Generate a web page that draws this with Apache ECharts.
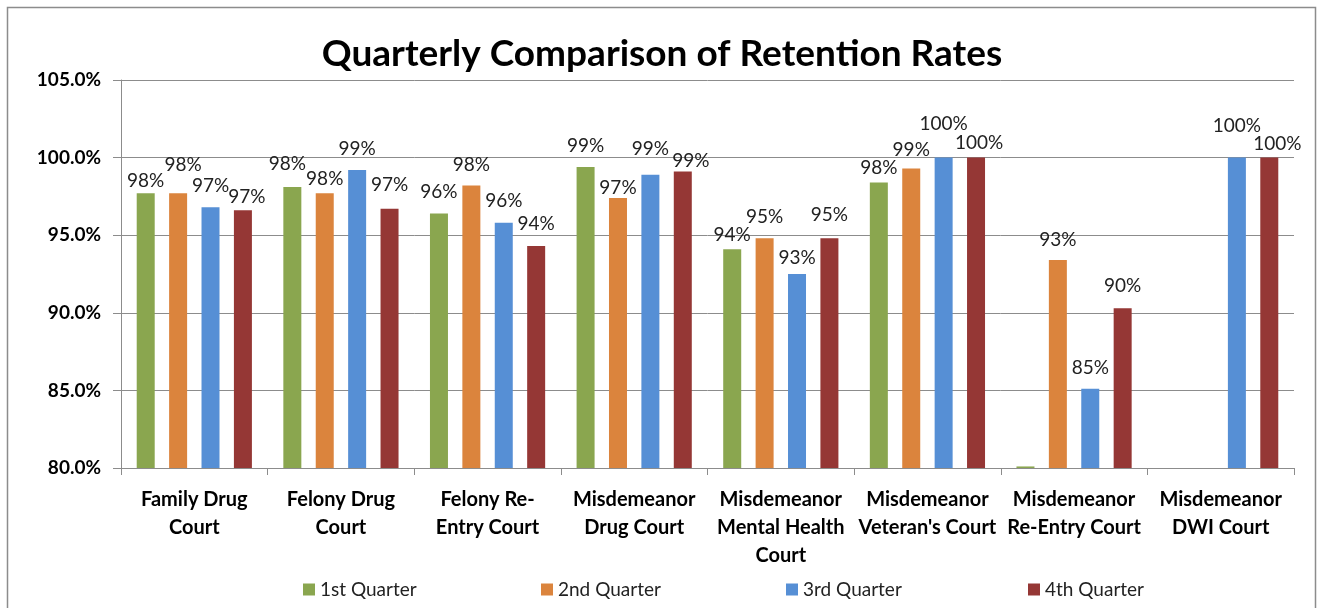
<!DOCTYPE html>
<html>
<head>
<meta charset="utf-8">
<script src="https://cdn.jsdelivr.net/npm/echarts@6/dist/echarts.min.js"></script>
<style>
  html, body { margin: 0; padding: 0; background: #ffffff; }
  #chart { width: 1324px; height: 608px; }
</style>
</head>
<body>
<div id="chart"></div>
<script>
// categories and quarterly retention rates (%)
const courts = [
  'Family Drug\nCourt',
  'Felony Drug\nCourt',
  'Felony Re-\nEntry Court',
  'Misdemeanor\nDrug Court',
  'Misdemeanor\nMental Health\nCourt',
  "Misdemeanor\nVeteran's Court",
  'Misdemeanor\nRe-Entry Court',
  'Misdemeanor\nDWI Court'
];
const quarters = ['1st Quarter', '2nd Quarter', '3rd Quarter', '4th Quarter'];
const q1 = [97.7, 98.1, 96.4, 99.4, 94.1, 98.4, 80.1, null];
const q2 = [97.7, 97.7, 98.2, 97.4, 94.8, 99.3, 93.4, null];
const q3 = [96.8, 99.2, 95.8, 98.9, 92.5, 100.0, 85.1, 100.0];
const q4 = [96.6, 96.7, 94.3, 99.1, 94.8, 100.0, 90.3, 100.0];
const yTicks = [80, 85, 90, 95, 100, 105];

// label nudges [dx, dy] per quarter and court, as the labels were moved in the original
const labelShift = [
  [[0, 9], [-5, -2], [0, 0], [0, 0], [0, 7], [0, 7], [0, 0], [0, 0]],
  [[5, -7], [0, 7], [0, 1], [0, 11], [0, 0], [0, 3], [0, 1], [0, 0]],
  [[0, 0], [0, 0], [0, 0], [0, -4], [0, 5], [0, -12], [0, 1], [0, -10]],
  [[4, 8], [0, -2], [0, -1], [8, 11], [0, -2], [3, 7], [0, -1], [8, 8]]
];

const colors = ['#8AA64F', '#DB843D', '#568FD5', '#953735'];
const font = 'Lato, "Open Sans", sans-serif';

let myChart = echarts.init(document.getElementById('chart'));

let seriesData = [q1, q2, q3, q4];
let series = seriesData.map((vals, i) => ({
  name: quarters[i],
  type: 'bar',
  barWidth: 18,
  barGap: '80%',
  itemStyle: { color: colors[i] },
  label: {
    show: true,
    position: 'top',
    distance: 12,
    color: '#222',
    fontFamily: font,
    fontSize: 19,
    formatter: p => (p.value > 80.5 ? Math.round(p.value) + '%' : '')
  },
  data: vals.map((v, j) => ({
    value: v === null ? '-' : v,
    label: { offset: labelShift[i][j] }
  }))
}));

// one legend per item, to place them like the original
let legendLeft = [298, 536, 781, 1023];
let legends = quarters.map((q, i) => ({
  data: [q],
  left: legendLeft[i],
  top: 575,
  itemWidth: 12,
  itemHeight: 12,
  itemGap: 0,
  icon: 'rect',
  selectedMode: false,
  textStyle: { fontFamily: font, fontSize: 19, color: '#222' }
}));

let option = {
  backgroundColor: '#ffffff',
  animation: false,
  color: colors,
  title: {
    text: 'Quarterly Comparison of Retention Rates',
    left: 'center',
    top: 31,
    textStyle: { fontFamily: font, fontWeight: 'bold', fontSize: 37, color: '#000' }
  },
  legend: legends,
  grid: { left: 121, right: 30, top: 80, bottom: 140, containLabel: false },
  xAxis: {
    type: 'category',
    data: courts,
    axisLine: { lineStyle: { color: '#8c8c8c', width: 1 } },
    axisTick: { show: true, length: 7, inside: false, lineStyle: { color: '#8c8c8c' } },
    axisLabel: {
      interval: 0,
      margin: 18,
      fontFamily: font,
      fontWeight: 'bold',
      fontSize: 20,
      lineHeight: 28,
      color: '#000'
    }
  },
  yAxis: {
    type: 'value',
    min: yTicks[0],
    max: yTicks[yTicks.length - 1],
    interval: 5,
    axisLine: { show: true, lineStyle: { color: '#8c8c8c' } },
    axisTick: { show: true, length: 8, lineStyle: { color: '#8c8c8c' } },
    splitLine: { show: true, lineStyle: { color: '#8c8c8c', width: 1 } },
    axisLabel: {
      margin: 20,
      fontFamily: font,
      fontWeight: 'bold',
      fontSize: 19,
      color: '#000',
      formatter: v => v.toFixed(1) + '%'
    }
  },
  graphic: [{
    type: 'rect',
    silent: true,
    z: -1,
    shape: { x: 7.5, y: 7.5, width: 1308, height: 640 },
    style: { fill: 'none', stroke: '#8c8c8c', lineWidth: 1.5 }
  }],
  series: series
};

myChart.setOption(option);
</script>
</body>
</html>
